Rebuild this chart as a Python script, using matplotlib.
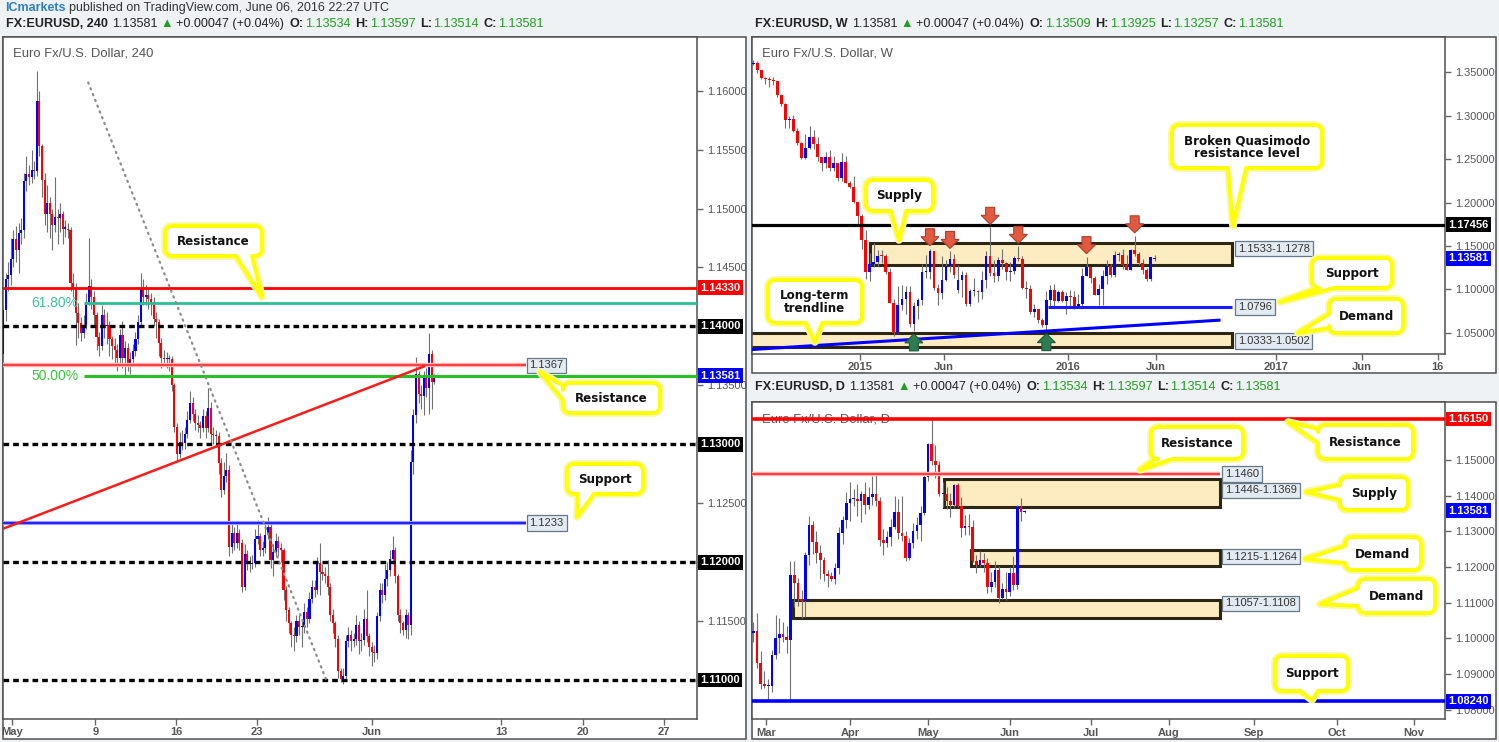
import numpy as np
import matplotlib
matplotlib.use("Agg")
import matplotlib.pyplot as plt
from matplotlib.patches import Rectangle, Polygon
from matplotlib.transforms import blended_transform_factory, IdentityTransform

plt.rcParams['font.family'] = ['Liberation Sans', 'DejaVu Sans']

# ------------------------------------------------------------------ data
# 4H chart (EURUSD 240), bars from 29 Apr 2016 to 6 Jun 2016
OPEN_4H = 1.1377
C_4H = [
    1.1414, 1.1440, 1.1444, 1.1457, 1.1474, 1.1465, 1.1479, 1.1482, 1.1523, 1.1529,
    1.1527, 1.1533, 1.1532, 1.1591, 1.1553, 1.1524, 1.1495, 1.1505, 1.1495, 1.1486,
    1.1493, 1.1492, 1.1495, 1.1483, 1.1483, 1.1482, 1.1437, 1.1433, 1.1411, 1.1403,
    1.1394, 1.1401, 1.1421, 1.1434, 1.1425, 1.1410, 1.1391, 1.1383, 1.1410, 1.1400,
    1.1401, 1.1389, 1.1383, 1.1380, 1.1373, 1.1393, 1.1373, 1.1382, 1.1369, 1.1372,
    1.1379, 1.1389, 1.1404, 1.1432, 1.1425, 1.1427, 1.1423, 1.1421, 1.1406, 1.1404,
    1.1386, 1.1373, 1.1372, 1.1372, 1.1372, 1.1350, 1.1315, 1.1292, 1.1302, 1.1301,
    1.1309, 1.1321, 1.1335, 1.1326, 1.1318, 1.1316, 1.1314, 1.1324, 1.1314, 1.1331,
    1.1309, 1.1308, 1.1307, 1.1284, 1.1261, 1.1273, 1.1278, 1.1213, 1.1225, 1.1216,
    1.1225, 1.1216, 1.1179, 1.1207, 1.1199, 1.1198, 1.1199, 1.1220, 1.1222, 1.1210,
    1.1212, 1.1223, 1.1230, 1.1202, 1.1209, 1.1218, 1.1212, 1.1210, 1.1176, 1.1159,
    1.1148, 1.1138, 1.1137, 1.1150, 1.1145, 1.1145, 1.1158, 1.1152, 1.1169, 1.1179,
    1.1176, 1.1199, 1.1192, 1.1190, 1.1188, 1.1179, 1.1155, 1.1148, 1.1135, 1.1108,
    1.1101, 1.1103, 1.1133, 1.1138, 1.1133, 1.1135, 1.1147, 1.1133, 1.1134, 1.1152,
    1.1137, 1.1128, 1.1124, 1.1123, 1.1154, 1.1176, 1.1172, 1.1186, 1.1193, 1.1203,
    1.1210, 1.1188, 1.1155, 1.1148, 1.1142, 1.1155, 1.1147, 1.1285, 1.1325, 1.1360,
    1.1343, 1.1341, 1.1356, 1.1348, 1.1377, 1.1353, 1.1358]
H_4H = [
    1.1418, 1.1445, 1.1455, 1.1475, 1.1482, 1.1485, 1.1488, 1.1492, 1.1530, 1.1545,
    1.1537, 1.1550, 1.1540, 1.1617, 1.1600, 1.1555, 1.1530, 1.1520, 1.1510, 1.1500,
    1.1527, 1.1500, 1.1505, 1.1498, 1.1490, 1.1488, 1.1484, 1.1445, 1.1437, 1.1420,
    1.1408, 1.1410, 1.1428, 1.1475, 1.1440, 1.1430, 1.1412, 1.1395, 1.1418, 1.1415,
    1.1412, 1.1405, 1.1392, 1.1390, 1.1385, 1.1398, 1.1405, 1.1388, 1.1386, 1.1378,
    1.1385, 1.1395, 1.1410, 1.1445, 1.1440, 1.1435, 1.1432, 1.1428, 1.1425, 1.1412,
    1.1406, 1.1390, 1.1380, 1.1378, 1.1376, 1.1375, 1.1352, 1.1318, 1.1310, 1.1312,
    1.1315, 1.1328, 1.1345, 1.1340, 1.1330, 1.1325, 1.1320, 1.1330, 1.1328, 1.1348,
    1.1336, 1.1315, 1.1312, 1.1310, 1.1288, 1.1285, 1.1293, 1.1282, 1.1235, 1.1230,
    1.1232, 1.1228, 1.1220, 1.1215, 1.1210, 1.1205, 1.1206, 1.1228, 1.1236, 1.1225,
    1.1218, 1.1232, 1.1238, 1.1232, 1.1215, 1.1225, 1.1222, 1.1216, 1.1212, 1.1180,
    1.1162, 1.1150, 1.1145, 1.1155, 1.1155, 1.1152, 1.1165, 1.1162, 1.1175, 1.1185,
    1.1185, 1.1204, 1.1216, 1.1198, 1.1196, 1.1202, 1.1182, 1.1160, 1.1150, 1.1138,
    1.1110, 1.1110, 1.1138, 1.1145, 1.1142, 1.1140, 1.1155, 1.1150, 1.1140, 1.1160,
    1.1176, 1.1140, 1.1132, 1.1130, 1.1158, 1.1182, 1.1182, 1.1198, 1.1200, 1.1210,
    1.1222, 1.1213, 1.1190, 1.1160, 1.1150, 1.1160, 1.1158, 1.1295, 1.1330, 1.1374,
    1.1362, 1.1350, 1.1362, 1.1365, 1.1394, 1.1380, 1.1360]
L_4H = [
    1.1372, 1.1405, 1.1430, 1.1435, 1.1450, 1.1455, 1.1445, 1.1470, 1.1475, 1.1515,
    1.1520, 1.1522, 1.1525, 1.1528, 1.1545, 1.1510, 1.1486, 1.1480, 1.1475, 1.1465,
    1.1480, 1.1470, 1.1480, 1.1470, 1.1476, 1.1475, 1.1430, 1.1425, 1.1384, 1.1390,
    1.1388, 1.1390, 1.1398, 1.1418, 1.1415, 1.1400, 1.1380, 1.1375, 1.1380, 1.1390,
    1.1385, 1.1375, 1.1372, 1.1368, 1.1362, 1.1368, 1.1365, 1.1357, 1.1362, 1.1360,
    1.1368, 1.1375, 1.1385, 1.1400, 1.1418, 1.1418, 1.1415, 1.1410, 1.1400, 1.1390,
    1.1375, 1.1365, 1.1366, 1.1365, 1.1362, 1.1345, 1.1310, 1.1285, 1.1288, 1.1295,
    1.1296, 1.1305, 1.1318, 1.1320, 1.1312, 1.1310, 1.1305, 1.1310, 1.1305, 1.1310,
    1.1300, 1.1300, 1.1298, 1.1275, 1.1255, 1.1258, 1.1268, 1.1205, 1.1208, 1.1210,
    1.1212, 1.1210, 1.1175, 1.1176, 1.1193, 1.1192, 1.1194, 1.1196, 1.1215, 1.1205,
    1.1205, 1.1208, 1.1220, 1.1195, 1.1188, 1.1205, 1.1205, 1.1200, 1.1168, 1.1150,
    1.1140, 1.1128, 1.1125, 1.1132, 1.1138, 1.1128, 1.1140, 1.1145, 1.1148, 1.1165,
    1.1170, 1.1173, 1.1172, 1.1185, 1.1182, 1.1172, 1.1150, 1.1140, 1.1128, 1.1102,
    1.1098, 1.1097, 1.1100, 1.1128, 1.1125, 1.1128, 1.1130, 1.1122, 1.1125, 1.1130,
    1.1132, 1.1120, 1.1112, 1.1115, 1.1118, 1.1150, 1.1165, 1.1168, 1.1180, 1.1188,
    1.1198, 1.1182, 1.1150, 1.1140, 1.1138, 1.1136, 1.1135, 1.1138, 1.1275, 1.1318,
    1.1335, 1.1330, 1.1325, 1.1340, 1.1326, 1.1330, 1.1351]

# Weekly chart, weeks from 7 Jul 2014 to 6 Jun 2016
OPEN_W = 1.3593
W_GAP_OPEN = {51: 1.0990, 100: 1.13509}
C_W = [
    1.3604, 1.3524, 1.3429, 1.3428, 1.3413, 1.3399, 1.3241, 1.3132, 1.2950, 1.2963,
    1.2829, 1.2685, 1.2515, 1.2628, 1.2760, 1.2670, 1.2527, 1.2453, 1.2526, 1.2393,
    1.2452, 1.2288, 1.2466, 1.2226, 1.2180, 1.2003, 1.1843, 1.1567, 1.1204, 1.1290,
    1.1314, 1.1387, 1.1381, 1.1197, 1.0843, 1.0495, 1.0822, 1.0890, 1.0970, 1.0600,
    1.0805, 1.0873, 1.1198, 1.1200, 1.1447, 1.1015, 1.0957, 1.1111, 1.1263, 1.1349,
    1.1165, 1.1109, 1.1166, 1.0829, 1.0981, 1.0983, 1.0968, 1.1107, 1.1386, 1.1183,
    1.1148, 1.1337, 1.1300, 1.1195, 1.1214, 1.1358, 1.1350, 1.1015, 1.1004, 1.0738,
    1.0771, 1.0647, 1.0593, 1.0882, 1.0989, 1.0867, 1.0965, 1.0861, 1.0923, 1.0916,
    1.0798, 1.0831, 1.1155, 1.1253, 1.1130, 1.0932, 1.1002, 1.1154, 1.1270, 1.1166,
    1.1390, 1.1397, 1.1285, 1.1225, 1.1453, 1.1404, 1.1308, 1.1221, 1.1114, 1.1367,
    1.13581]
H_W = [
    1.3647, 1.3630, 1.3528, 1.3443, 1.3445, 1.3444, 1.3393, 1.3229, 1.3150, 1.2995,
    1.3007, 1.2859, 1.2698, 1.2791, 1.2887, 1.2838, 1.2749, 1.2529, 1.2578, 1.2600,
    1.2531, 1.2456, 1.2570, 1.2530, 1.2250, 1.2300, 1.1971, 1.1867, 1.1680, 1.1423,
    1.1534, 1.1452, 1.1450, 1.1410, 1.1244, 1.0887, 1.1043, 1.1052, 1.1036, 1.1036,
    1.0849, 1.0895, 1.1290, 1.1391, 1.1467, 1.1447, 1.1062, 1.1386, 1.1339, 1.1436,
    1.1409, 1.1279, 1.1215, 1.1200, 1.0999, 1.1129, 1.0987, 1.1215, 1.1440, 1.1714,
    1.1332, 1.1370, 1.1460, 1.1310, 1.1318, 1.1387, 1.1495, 1.1386, 1.1095, 1.1052,
    1.0829, 1.0762, 1.0667, 1.0981, 1.1046, 1.1059, 1.0992, 1.0993, 1.0970, 1.0993,
    1.0986, 1.0941, 1.1246, 1.1376, 1.1256, 1.1150, 1.1058, 1.1218, 1.1342, 1.1290,
    1.1438, 1.1433, 1.1464, 1.1399, 1.1463, 1.1616, 1.1432, 1.1349, 1.1241, 1.1375,
    1.13925]
L_W = [
    1.3579, 1.3490, 1.3420, 1.3366, 1.3333, 1.3353, 1.3221, 1.3110, 1.2859, 1.2860,
    1.2814, 1.2667, 1.2500, 1.2502, 1.2617, 1.2614, 1.2482, 1.2358, 1.2394, 1.2360,
    1.2359, 1.2247, 1.2247, 1.2221, 1.2165, 1.2000, 1.1754, 1.1460, 1.1115, 1.1098,
    1.1260, 1.1270, 1.1300, 1.1175, 1.0839, 1.0462, 1.0492, 1.0765, 1.0712, 1.0570,
    1.0521, 1.0661, 1.0819, 1.1133, 1.1115, 1.0990, 1.0819, 1.0887, 1.1090, 1.1199,
    1.1133, 1.0955, 1.0916, 1.0809, 1.0807, 1.0925, 1.0848, 1.0886, 1.1017, 1.1157,
    1.1087, 1.1100, 1.1235, 1.1105, 1.1101, 1.1172, 1.1325, 1.1000, 1.0896, 1.0710,
    1.0676, 1.0617, 1.0566, 1.0524, 1.0799, 1.0805, 1.0852, 1.0848, 1.0711, 1.0804,
    1.0778, 1.0809, 1.0810, 1.1150, 1.1067, 1.0929, 1.0824, 1.0822, 1.1057, 1.1144,
    1.1142, 1.1326, 1.1234, 1.1217, 1.1218, 1.1384, 1.1284, 1.1176, 1.1098, 1.1098,
    1.13257]
W_RED_ARROWS = [44, 49, 59, 66, 83, 95]
W_GREEN_ARROWS = [40, 73]

# Daily chart, 25 Feb 2016 to 7 Jun 2016
OPEN_D = 1.1015
C_D = [
    1.1020, 1.0932, 1.0873, 1.0866, 1.0866, 1.0954, 1.1002, 1.1013, 1.1005, 1.0996,
    1.1179, 1.1154, 1.1109, 1.1104, 1.1234, 1.1318, 1.1270, 1.1240, 1.1219, 1.1181,
    1.1176, 1.1166, 1.1197, 1.1296, 1.1333, 1.1380, 1.1390, 1.1392, 1.1384, 1.1405,
    1.1373, 1.1397, 1.1406, 1.1385, 1.1276, 1.1267, 1.1285, 1.1312, 1.1355, 1.1296,
    1.1287, 1.1225, 1.1267, 1.1300, 1.1318, 1.1352, 1.1453, 1.1545, 1.1497, 1.1487,
    1.1404, 1.1404, 1.1385, 1.1375, 1.1430, 1.1372, 1.1308, 1.1315, 1.1313, 1.1218,
    1.1205, 1.1221, 1.1212, 1.1143, 1.1159, 1.1193, 1.1114, 1.1138, 1.1131, 1.1184,
    1.1151, 1.1367, 1.1353, 1.13581]
H_D = [
    1.1047, 1.1070, 1.0966, 1.0908, 1.0886, 1.0968, 1.1066, 1.1056, 1.1045, 1.1035,
    1.1218, 1.1217, 1.1168, 1.1137, 1.1242, 1.1342, 1.1329, 1.1300, 1.1263, 1.1229,
    1.1193, 1.1187, 1.1212, 1.1311, 1.1343, 1.1410, 1.1438, 1.1420, 1.1433, 1.1412,
    1.1437, 1.1423, 1.1454, 1.1464, 1.1395, 1.1307, 1.1300, 1.1334, 1.1400, 1.1392,
    1.1398, 1.1300, 1.1280, 1.1323, 1.1340, 1.1370, 1.1463, 1.1549, 1.1616, 1.1541,
    1.1496, 1.1438, 1.1425, 1.1408, 1.1433, 1.1436, 1.1396, 1.1347, 1.1349, 1.1331,
    1.1234, 1.1245, 1.1240, 1.1226, 1.1185, 1.1216, 1.1204, 1.1154, 1.1185, 1.1200,
    1.1230, 1.1375, 1.1394, 1.13597]
L_D = [
    1.0990, 1.0918, 1.0858, 1.0860, 1.0825, 1.0851, 1.0942, 1.0958, 1.0990, 1.0960,
    1.0822, 1.1087, 1.1092, 1.1057, 1.1059, 1.1207, 1.1237, 1.1210, 1.1166, 1.1162,
    1.1144, 1.1160, 1.1152, 1.1180, 1.1265, 1.1310, 1.1329, 1.1371, 1.1343, 1.1326,
    1.1350, 1.1363, 1.1375, 1.1370, 1.1260, 1.1234, 1.1257, 1.1258, 1.1306, 1.1278,
    1.1273, 1.1217, 1.1219, 1.1252, 1.1278, 1.1273, 1.1346, 1.1440, 1.1487, 1.1450,
    1.1400, 1.1368, 1.1362, 1.1340, 1.1366, 1.1367, 1.1284, 1.1290, 1.1290, 1.1214,
    1.1183, 1.1200, 1.1185, 1.1128, 1.1129, 1.1144, 1.1098, 1.1110, 1.1108, 1.1119,
    1.1135, 1.1138, 1.1328, 1.13514]

# tick labels
TICKS_4H = ['May', '9', '16', '23', 'Jun', '13', '20', '27']
TICKS_W = ['2015', 'Jun', '2016', 'Jun', '2017', 'Jun', '16']
TICKS_D = ['Mar', 'Apr', 'May', 'Jun', 'Jul', 'Aug', 'Sep', 'Oct', 'Nov']
TICKPOS_4H = [3.5, 35.5, 66.8, 97.7, 142.1, 191.9, 223.2, 254.4]
TICKPOS_W = [26.6, 47.5, 78.4, 100.3, 130.2, 151.6, 170.5]
TICKPOS_D = [3.4, 26.1, 47.0, 69.0, 90.8, 111.8, 134.7, 157.0, 177.7]

LAST = 1.13581
HEADER = ('ICmarkets', 'published on TradingView.com, June 06, 2016 22:27 UTC')
TITLE_4H = ('240', '1.13534', '1.13597', '1.13514', '1.13581')
TITLE_W = ('W', '1.13509', '1.13925', '1.13257', '1.13581')
TITLE_D = ('D', '1.13534', '1.13597', '1.13514', '1.13581')

# ------------------------------------------------------------------ style
W, H = 1499, 742
BG = '#eff2f5'
UP, DN, WICK = '#0000ff', '#ff0000', '#707070'
GREEN, DARK, AXC = '#1f9f1f', '#222222', '#555555'
ZONE_FC, ZONE_EC = '#fdebc1', '#2d2615'

fig = plt.figure(figsize=(W / 100, H / 100), dpi=100, facecolor=BG)


def F(px, py):
    return (px / W, 1 - py / H)


def frame(x0, y0, x1, y1):
    fig.add_artist(Rectangle(F(x0, y1), (x1 - x0) / W, (y1 - y0) / H,
                             transform=fig.transFigure, fc='white',
                             ec='#505050', lw=1.1, zorder=-5))


def make_ax(x0, y0, x1, y1, xlim, ylim, yticks, xticks, xlabels, hidden=()):
    ax = fig.add_axes([x0 / W, 1 - y1 / H, (x1 - x0) / W, (y1 - y0) / H])
    ax.set_facecolor('white')
    ax.set_xlim(*xlim)
    ax.set_ylim(*ylim)
    for s in ax.spines.values():
        s.set_color('#505050')
        s.set_linewidth(1.1)
    ax.yaxis.tick_right()
    ax.set_yticks(yticks)
    ax.set_yticklabels(['' if any(abs(v - h) < 1e-9 for h in hidden) else '%.5f' % v
                        for v in yticks])
    ax.set_xticks(xticks)
    ax.set_xticklabels(xlabels)
    ax.tick_params(axis='y', direction='out', length=4, width=1, color='#666',
                   labelsize=7.9, labelcolor=AXC, pad=3)
    ax.tick_params(axis='x', direction='out', length=4, width=1, color='#666',
                   labelsize=8, labelcolor=AXC, pad=2)
    for t in ax.get_xticklabels():
        t.set_fontweight('bold')
    return ax


def candles(ax, o, h, l, c, width, minh):
    o = np.asarray(o, float); h = np.asarray(h, float)
    l = np.asarray(l, float); c = np.asarray(c, float)
    x = np.arange(len(c))
    hi = np.maximum(h, np.maximum(o, c))
    lo = np.minimum(l, np.minimum(o, c))
    ax.vlines(x, lo, hi, colors=WICK, lw=0.8, zorder=3)
    col = np.where(c >= o, UP, DN)
    bot = np.minimum(o, c)
    hgt = np.maximum(np.abs(c - o), minh)
    ax.bar(x, hgt, bottom=bot, width=width, color=col, lw=0, zorder=3.5)


def tag(ax, price, text, bg):
    tr = blended_transform_factory(ax.transAxes, ax.transData)
    ax.annotate(text, xy=(1, price), xycoords=tr, xytext=(2.2, 0),
                textcoords='offset points', ha='left', va='center',
                color='white', fontsize=8, fontweight='bold',
                bbox=dict(boxstyle='square,pad=0.22', fc=bg, ec=bg, lw=0),
                annotation_clip=False, zorder=20)


def vlabel(ax, x, price, text, dy=0):
    ax.annotate(text, xy=(x, price), xytext=(0, dy), textcoords='offset points',
                ha='left', va='center', fontsize=8, color='#333',
                bbox=dict(boxstyle='square,pad=0.25', fc='#e3ebf2', ec='#667788', lw=0.9),
                zorder=8, annotation_clip=False)


def zone(ax, x0, x1, lo, hi):
    ax.add_patch(Rectangle((x0, lo), x1 - x0, hi - lo, fc=ZONE_FC, ec=ZONE_EC,
                           lw=2.2, zorder=1.5))


def chain(x, y, parts, fs=9.1):
    r = fig.canvas.get_renderer()
    for it in parts:
        if isinstance(it, (int, float)):
            x += it
            continue
        s, col, wt = it
        t = fig.text(x / W, 1 - y / H, s, color=col, fontsize=fs, fontweight=wt,
                     ha='left', va='center')
        x += t.get_window_extent(r).width


def title(x, y, vals):
    tf, o, h, l, c = vals
    chain(x, y, [('FX:EURUSD, ' + tf, DARK, 'bold'), 4, (LAST_S, DARK, 'normal'), 3,
                 ('\u25b2', GREEN, 'normal'), 3, ('+0.00047 (+0.04%)', DARK, 'normal'), 6,
                 ('O:', DARK, 'bold'), 1, (o, GREEN, 'normal'), 5,
                 ('H:', DARK, 'bold'), 1, (h, GREEN, 'normal'), 5,
                 ('L:', DARK, 'bold'), 1, (l, GREEN, 'normal'), 5,
                 ('C:', DARK, 'bold'), 1, (c, GREEN, 'normal')])


def bubble(box, side, b0, b1, tip, text, fs=8.6):
    x0, y0, x1, y1 = box
    r = 7
    pts = []

    def arc(cx, cy, a0, a1):
        for a in np.linspace(np.radians(a0), np.radians(a1), 6):
            pts.append((cx + r * np.cos(a), cy + r * np.sin(a)))
    arc(x0 + r, y0 + r, 180, 270)
    if side == 'top':
        pts.extend([(b0, y0), tip, (b1, y0)])
    arc(x1 - r, y0 + r, 270, 360)
    if side == 'right':
        pts.extend([(x1, b0), tip, (x1, b1)])
    arc(x1 - r, y1 - r, 0, 90)
    if side == 'bottom':
        pts.extend([(b1, y1), tip, (b0, y1)])
    arc(x0 + r, y1 - r, 90, 180)
    if side == 'left':
        pts.extend([(x0, b1), tip, (x0, b0)])
    verts = [F(px, py) for px, py in pts]
    fig.add_artist(Polygon(verts, closed=True, transform=fig.transFigure, fc='none',
                           ec='#f8f8a0', lw=5.5, zorder=30, joinstyle='round'))
    fig.add_artist(Polygon(verts, closed=True, transform=fig.transFigure, fc='white',
                           ec='#ffff00', lw=2.8, zorder=31, joinstyle='round'))
    fig.text(*F((x0 + x1) / 2, (y0 + y1) / 2 + 0.5), text, ha='center', va='center',
             fontsize=fs, fontweight='bold', family=['DejaVu Sans'], color='#111',
             zorder=32, linespacing=0.95)


def block_arrow(ax, i, price, down, fc, ec, gap=3):
    tx, ty = ax.transData.transform((i, price))
    hw, hh, sw, sh = 9, 9, 4.5, 8
    s = 1 if down else -1
    ty = ty + s * gap
    verts = [(tx, ty), (tx - hw, ty + s * hh), (tx - sw, ty + s * hh),
             (tx - sw, ty + s * (hh + sh)), (tx + sw, ty + s * (hh + sh)),
             (tx + sw, ty + s * hh), (tx + hw, ty + s * hh)]
    fig.add_artist(Polygon(verts, closed=True, transform=IdentityTransform(),
                           fc=fc, ec=ec, lw=0.8, zorder=12))


LAST_S = '%.5f' % LAST

# ------------------------------------------------------------------ header
chain(5, 8, [(HEADER[0], '#2f7fc1', 'bold'), 3.5, (HEADER[1], '#333333', 'normal')], fs=9)

# ------------------------------------------------------------------ 4H panel
frame(3, 36.7, 746, 738.5)
title(6, 24, TITLE_4H)
ax4 = make_ax(3, 36.7, 697, 719, (-0.0, 267.2), (1.10669, 1.16458),
              [round(1.110 + 0.005 * k, 3) for k in range(11)], TICKPOS_4H, TICKS_4H,
              hidden=(1.11, 1.12, 1.13, 1.14))
ax4.text(13 / W, 1 - 54 / H, 'Euro Fx/U.S. Dollar, 240', transform=fig.transFigure,
         fontsize=9.4, color=AXC, ha='left', va='center', zorder=2)

o4 = [OPEN_4H] + C_4H[:-1]
candles(ax4, o4, H_4H, L_4H, C_4H, 0.8, 0.0001)

X_END = 201.5
for lvl in (1.14, 1.13, 1.12, 1.11):
    ax4.axhline(lvl, color='black', lw=2.4, ls=(0, (1.7, 1.2)), zorder=4)
ax4.axhline(1.1433, color='#ff0000', lw=2.0, zorder=4)
ax4.hlines(1.1420, 31.3, 267.2, color='#2bbf96', lw=2.0, zorder=4)
ax4.hlines(1.1358, 31.3, 267.2, color='#27c027', lw=2.2, zorder=4)
ax4.text(10.8, 1.1420, '61.80%', color='#3cc39c', fontsize=10, ha='left', va='center', zorder=5)
ax4.text(10.8, 1.1358, '50.00%', color='#3cc53c', fontsize=10, ha='left', va='center', zorder=5)
ax4.hlines(1.1367, -1, X_END, color='#ffb0b0', lw=3.2, zorder=4)
ax4.hlines(1.1367, -1, X_END, color='#ff2020', lw=1.1, zorder=4.1)
ax4.hlines(1.1233, -1, X_END, color='#9a9aff', lw=3.0, zorder=4)
ax4.hlines(1.1233, -1, X_END, color='#0000ff', lw=1.1, zorder=4.1)
ax4.plot([-0.4, 162], [1.1228, 1.1366], color='#ff1a1a', lw=1.8, zorder=4.2)
ax4.plot([32.8, 124.3], [1.1607, 1.1101], color='#8c8c8c', lw=1.6,
         ls=(0, (0.6, 2.2)), zorder=4.2, dash_capstyle='round')
vlabel(ax4, X_END + 1.2, 1.1367, '1.1367')
vlabel(ax4, X_END + 1.2, 1.1233, '1.1233')
tag(ax4, 1.1433, '1.14330', '#ff0000')
tag(ax4, 1.1400, '1.14000', '#000000')
tag(ax4, LAST, LAST_S, '#0000ff')
tag(ax4, 1.1300, '1.13000', '#000000')
tag(ax4, 1.1200, '1.12000', '#000000')
tag(ax4, 1.1100, '1.11000', '#000000')

# ------------------------------------------------------------------ Weekly panel
frame(752, 37, 1496, 372.5)
title(755, 24, TITLE_W)
axw = make_ax(752, 37, 1445, 354, (-0.324, 172.3), (1.02546, 1.39067),
              [1.05, 1.10, 1.15, 1.20, 1.25, 1.30, 1.35], TICKPOS_W, TICKS_W)
axw.text(762 / W, 1 - 54 / H, 'Euro Fx/U.S. Dollar, W', transform=fig.transFigure,
         fontsize=9.4, color=AXC, ha='left', va='center', zorder=2)
oW = [OPEN_W] + C_W[:-1]
for k, v in W_GAP_OPEN.items():
    oW[k] = v
W_END = 119.2
zone(axw, 29.1, W_END, 1.1278, 1.1533)
zone(axw, -1, W_END, 1.0333, 1.0502)
candles(axw, oW, H_W, L_W, C_W, 0.66, 0.0012)
axw.axhline(1.17456, color='black', lw=2.3, zorder=4)
axw.hlines(1.0796, 73.5, W_END, color='#1a1aff', lw=2.2, zorder=4)
axw.plot([-0.4, 116], [1.0306, 1.0644], color='#0000ff', lw=2.2, zorder=4.2)
vlabel(axw, W_END + 1.5, 1.1533, '1.1533-1.1278', dy=-4)
vlabel(axw, W_END + 1.5, 1.0796, '1.0796')
vlabel(axw, W_END + 1.5, 1.0502, '1.0333-1.0502', dy=-6)
tag(axw, 1.17456, '1.17456', '#000000')
tag(axw, LAST, LAST_S, '#0000ff')
for i in W_RED_ARROWS:
    block_arrow(axw, i, H_W[i], True, '#e05a42', '#b23a28')
for i in W_GREEN_ARROWS:
    block_arrow(axw, i, L_W[i], False, '#2e7d52', '#1d5a39')

# ------------------------------------------------------------------ Daily panel
frame(752, 401.7, 1496, 738.5)
title(755, 387, TITLE_D)
axd = make_ax(752, 401.7, 1445, 719.3, (-0.35, 186.1), (1.07732, 1.16634),
              [1.08, 1.09, 1.10, 1.11, 1.12, 1.13, 1.14, 1.15, 1.16], TICKPOS_D, TICKS_D,
              hidden=(1.16,))
axd.text(762 / W, 1 - 419 / H, 'Euro Fx/U.S. Dollar, D', transform=fig.transFigure,
         fontsize=9.4, color=AXC, ha='left', va='center', zorder=2)
oD = [OPEN_D] + C_D[:-1]
D_END = 125.5
zone(axd, 51.3, D_END, 1.1369, 1.1446)
zone(axd, 58.5, D_END, 1.1202, 1.1247)
zone(axd, 10.6, D_END, 1.1057, 1.1108)
candles(axd, oD, H_D, L_D, C_D, 0.72, 0.0003)
axd.axhline(1.1615, color='#ff0000', lw=2.6, zorder=4)
axd.axhline(1.0824, color='#0000ff', lw=2.6, zorder=4)
axd.hlines(1.1460, -1, D_END, color='#ffb0b0', lw=3.2, zorder=4)
axd.hlines(1.1460, -1, D_END, color='#ff2020', lw=1.1, zorder=4.1)
vlabel(axd, D_END + 1.4, 1.1460, '1.1460')
vlabel(axd, D_END + 1.4, 1.1446, '1.1446-1.1369', dy=-8)
vlabel(axd, D_END + 1.4, 1.1264, '1.1215-1.1264', dy=-9)
vlabel(axd, D_END + 1.4, 1.1108, '1.1057-1.1108', dy=-2.5)
tag(axd, 1.1615, '1.16150', '#ff0000')
tag(axd, LAST, LAST_S, '#0000ff')
tag(axd, 1.0824, '1.08240', '#0000ff')

# ------------------------------------------------------------------ callouts
bubble((165, 226, 262, 256), 'bottom', 236, 252, (262, 297), 'Resistance')
bubble((563, 383, 660, 413), 'left', 386, 400, (540, 372), 'Resistance')
bubble((567, 464, 643, 494), 'bottom', 578, 594, (577, 517), 'Support')
bubble((866, 180, 933, 211), 'bottom', 891, 906, (899, 240), 'Supply')
bubble((1172, 125, 1322, 168), 'bottom', 1228, 1246, (1233, 226),
       'Broken Quasimodo\nresistance level')
bubble((1312, 258, 1392, 288), 'bottom', 1318, 1334, (1280, 302), 'Support')
bubble((768, 280, 862, 323), 'bottom', 806, 822, (815, 342), 'Long-term\ntrendline')
bubble((1329, 299, 1403, 333), 'left', 314, 328, (1298, 333), 'Demand')
bubble((1151, 427, 1243, 459), 'bottom', 1155, 1172, (1140, 470), 'Resistance')
bubble((1318, 425, 1413, 459), 'left', 429, 443, (1288, 422), 'Resistance')
bubble((1340, 477, 1408, 510), 'left', 485, 500, (1306, 492), 'Supply')
bubble((1345, 537, 1421, 570), 'left', 546, 563, (1305, 559), 'Demand')
bubble((1358, 579, 1435, 613), 'left', 588, 606, (1320, 604), 'Demand')
bubble((1275, 656, 1348, 691), 'bottom', 1300, 1318, (1312, 700), 'Support')

fig.savefig('out.png', dpi=100, facecolor=BG)
